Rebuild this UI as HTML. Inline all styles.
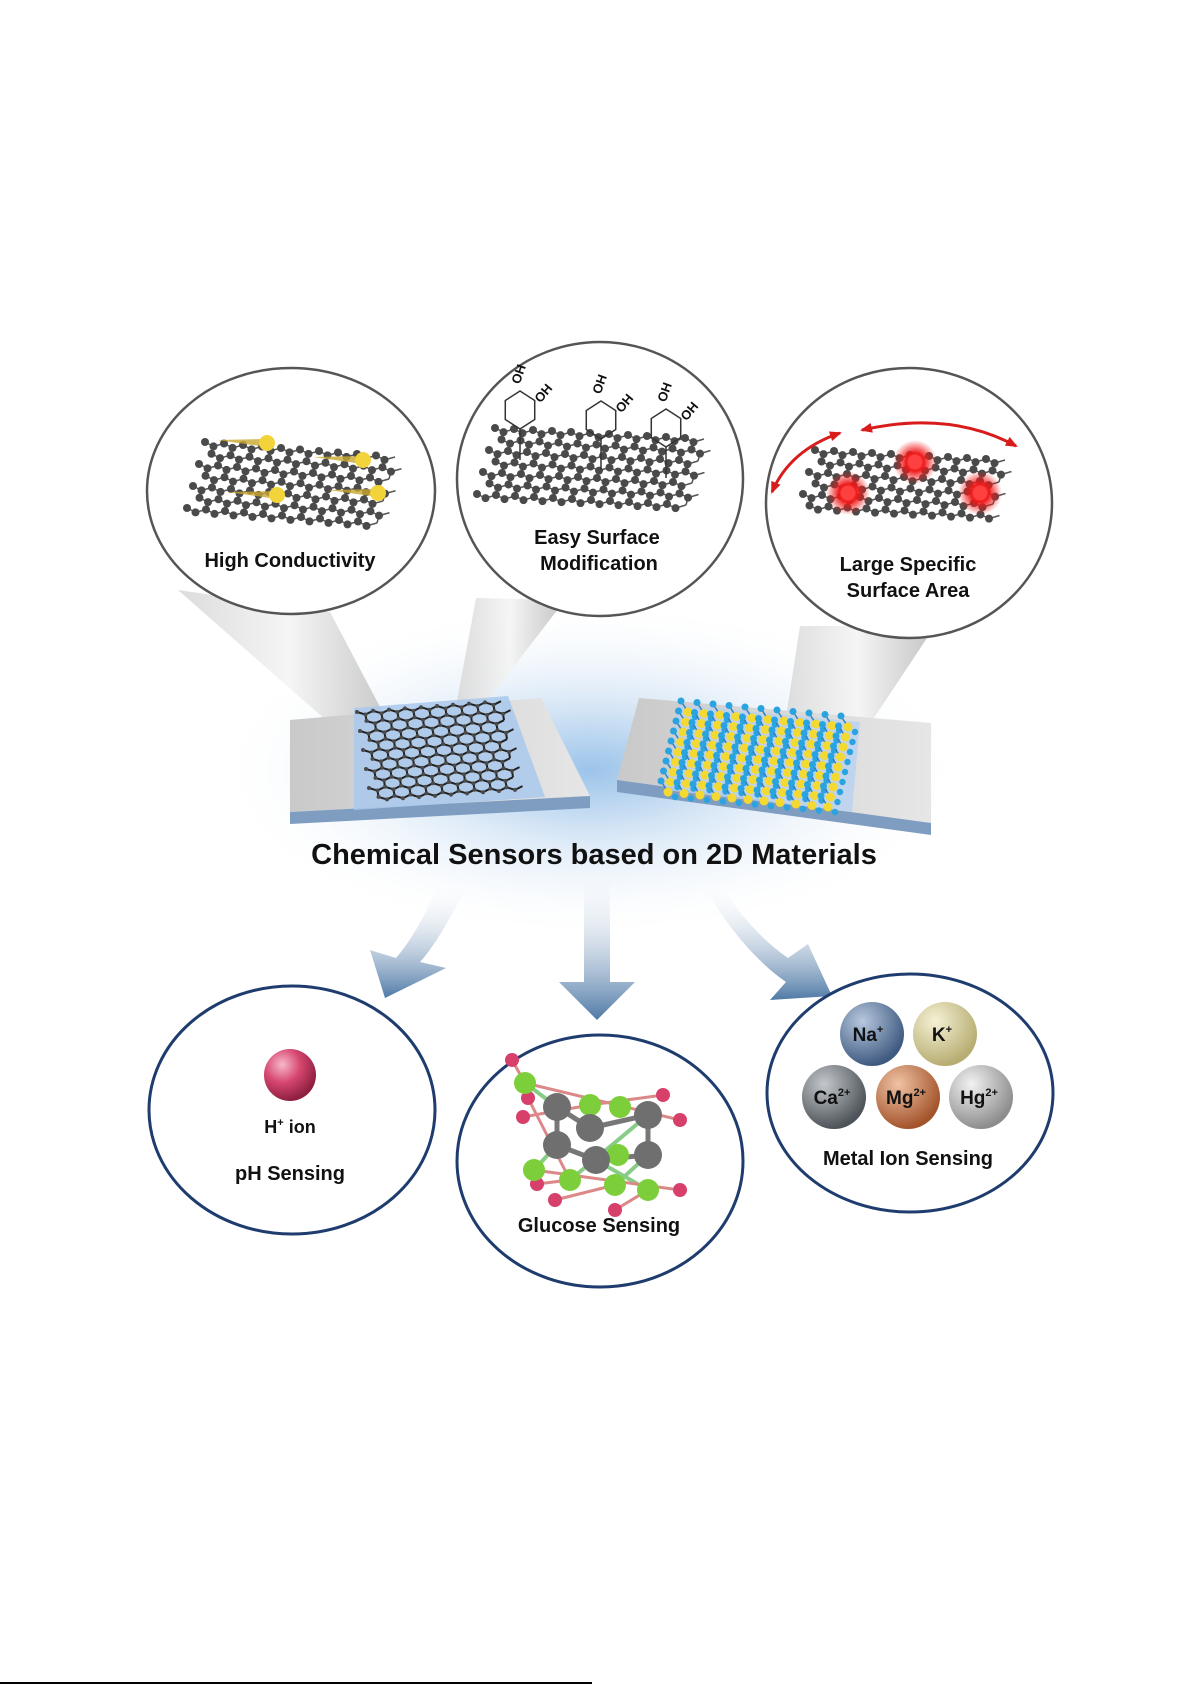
<!DOCTYPE html>
<html><head><meta charset="utf-8"><style>
html,body{margin:0;padding:0;background:#fff;}
svg{display:block;}
text{font-family:"Liberation Sans",Arial,sans-serif;font-weight:bold;fill:#111;}
</style></head><body>
<svg id="s" width="1191" height="1685" viewBox="0 0 1191 1685" xmlns="http://www.w3.org/2000/svg">
<defs>
<radialGradient id="glow" cx="0.5" cy="0.5" r="0.5">
<stop offset="0" stop-color="#9cc4ea"/><stop offset="0.35" stop-color="#d3e4f5"/><stop offset="1" stop-color="#fff" stop-opacity="0"/></radialGradient>
<linearGradient id="cone" x1="0" y1="0" x2="1" y2="0"><stop offset="0" stop-color="#d8d8d8"/><stop offset="0.5" stop-color="#f4f4f4"/><stop offset="1" stop-color="#bdbdbd"/></linearGradient>
<linearGradient id="slab" x1="0" y1="0" x2="1" y2="0"><stop offset="0" stop-color="#c9c9c9"/><stop offset="1" stop-color="#e6e6e6"/></linearGradient>
<linearGradient id="arr" x1="0" y1="0" x2="0" y2="1"><stop offset="0" stop-color="#fff" stop-opacity="0"/><stop offset="1" stop-color="#4f79a6"/></linearGradient>
<radialGradient id="gH" cx="0.35" cy="0.3" r="0.7"><stop offset="0" stop-color="#f7b8cc"/><stop offset="0.5" stop-color="#d6466f"/><stop offset="1" stop-color="#8e1f40"/></radialGradient>
<radialGradient id="gNa" cx="0.35" cy="0.3" r="0.7"><stop offset="0" stop-color="#b7c8df"/><stop offset="1" stop-color="#3f5a80"/></radialGradient>
<radialGradient id="gK" cx="0.35" cy="0.3" r="0.7"><stop offset="0" stop-color="#f5f1d5"/><stop offset="1" stop-color="#b7ad72"/></radialGradient>
<radialGradient id="gCa" cx="0.35" cy="0.3" r="0.7"><stop offset="0" stop-color="#c4c8cc"/><stop offset="1" stop-color="#4d5358"/></radialGradient>
<radialGradient id="gMg" cx="0.35" cy="0.3" r="0.7"><stop offset="0" stop-color="#f0c3a4"/><stop offset="1" stop-color="#a3542b"/></radialGradient>
<radialGradient id="gHg" cx="0.35" cy="0.3" r="0.7"><stop offset="0" stop-color="#f2f2f2"/><stop offset="1" stop-color="#8d8d8d"/></radialGradient>
<radialGradient id="star" cx="0.5" cy="0.5" r="0.5"><stop offset="0" stop-color="#ffb0b0"/><stop offset="0.4" stop-color="#f01818"/><stop offset="1" stop-color="#f01818" stop-opacity="0"/></radialGradient>
<marker id="ra" markerUnits="userSpaceOnUse" markerWidth="12" markerHeight="10" refX="10" refY="5" orient="auto-start-reverse"><path d="M0,0 L12,5 L0,10 z" fill="#d81c1c"/></marker>
</defs>
<ellipse cx="590" cy="770" rx="380" ry="170" fill="url(#glow)"/>
<!-- cones -->
<polygon points="178,590 330,612 400,745 360,750" fill="url(#cone)" opacity="0.9"/>
<polygon points="476,598 565,600 488,700 455,712" fill="url(#cone)" opacity="0.9"/>
<polygon points="800,626 935,626 856,745 780,756" fill="url(#cone)" opacity="0.9"/>
<!-- left slab -->
<polygon points="290,720 541,698 590,796 290,812" fill="url(#slab)"/>
<polygon points="290,812 590,796 590,808 290,824" fill="#7f9dc0"/>
<polygon points="354,708 508,696 545,797 354,810" fill="#a9c8ec" opacity="0.85"/>
<g id="lg"></g>
<!-- right slab -->
<polygon points="639,698 931,723 931,823 617,780" fill="url(#slab)"/>
<polygon points="617,780 931,823 931,835 617,792" fill="#7f9dc0"/>
<polygon points="680,705 860,722 852,812 665,790" fill="#b8d2f0" opacity="0.8"/>
<g id="mo"></g>
<!-- top circles -->
<ellipse cx="291" cy="491" rx="144" ry="123" fill="#fff" stroke="#555" stroke-width="2.5"/>
<ellipse cx="600" cy="479" rx="143" ry="137" fill="#fff" stroke="#555" stroke-width="2.5"/>
<ellipse cx="909" cy="503" rx="143" ry="135" fill="#fff" stroke="#555" stroke-width="2.5"/>
<g id="g1"></g><g id="g2"></g><g id="g3"></g>
<text x="290" y="567" font-size="20" text-anchor="middle">High Conductivity</text>
<text x="597" y="544" font-size="20" text-anchor="middle">Easy Surface</text>
<text x="599" y="570" font-size="20" text-anchor="middle">Modification</text>
<text x="908" y="571" font-size="20" text-anchor="middle">Large Specific</text>
<text x="908" y="597" font-size="20" text-anchor="middle">Surface Area</text>
<!-- red stars and arrows -->
<circle cx="848" cy="493" r="22" fill="url(#star)"/><circle cx="848" cy="493" r="7" fill="#ff4040"/>
<circle cx="915" cy="462" r="22" fill="url(#star)"/><circle cx="915" cy="462" r="7" fill="#ff4040"/>
<circle cx="980" cy="493" r="22" fill="url(#star)"/><circle cx="980" cy="493" r="7" fill="#ff4040"/>
<path d="M772,492 Q790,450 840,433" stroke="#d81c1c" stroke-width="3" fill="none" marker-end="url(#ra)" marker-start="url(#ra)"/>
<path d="M862,430 Q950,410 1016,446" stroke="#d81c1c" stroke-width="3" fill="none" marker-end="url(#ra)" marker-start="url(#ra)"/>
<!-- title -->
<text x="594" y="864" font-size="29" text-anchor="middle" fill="#000">Chemical Sensors based on 2D Materials</text>
<!-- arrows -->
<path d="M470,880 Q440,940 420,962 L446,968 L385,998 L370,950 L396,958 Q420,930 440,880 Z" fill="url(#arr)"/>
<polygon points="584,866 610,866 610,982 635,982 597,1020 559,982 584,982" fill="url(#arr)"/>
<path d="M718,880 Q748,930 788,958 L808,944 L832,996 L770,1000 L786,982 Q740,950 700,880 Z" fill="url(#arr)"/>
<!-- bottom circles -->
<ellipse cx="292" cy="1110" rx="143" ry="124" fill="#fff" stroke="#1f3c6e" stroke-width="3"/>
<ellipse cx="600" cy="1161" rx="143" ry="126" fill="#fff" stroke="#1f3c6e" stroke-width="3"/>
<ellipse cx="910" cy="1093" rx="143" ry="119" fill="#fff" stroke="#1f3c6e" stroke-width="3"/>
<circle cx="290" cy="1075" r="26" fill="url(#gH)"/>
<text x="290" y="1133" font-size="18" text-anchor="middle">H<tspan font-size="11" dy="-7">+</tspan><tspan dy="7"> ion</tspan></text>
<text x="290" y="1180" font-size="20" text-anchor="middle">pH Sensing</text>
<g id="glu"></g>
<text x="599" y="1232" font-size="20" text-anchor="middle">Glucose Sensing</text>
<circle cx="872" cy="1034" r="32" fill="url(#gNa)"/>
<circle cx="945" cy="1034" r="32" fill="url(#gK)"/>
<circle cx="834" cy="1097" r="32" fill="url(#gCa)"/>
<circle cx="908" cy="1097" r="32" fill="url(#gMg)"/>
<circle cx="981" cy="1097" r="32" fill="url(#gHg)"/>
<text x="868" y="1041" font-size="19" text-anchor="middle">Na<tspan font-size="11" dy="-8">+</tspan></text>
<text x="942" y="1041" font-size="19" text-anchor="middle">K<tspan font-size="11" dy="-8">+</tspan></text>
<text x="832" y="1104" font-size="19" text-anchor="middle">Ca<tspan font-size="11" dy="-8">2+</tspan></text>
<text x="906" y="1104" font-size="19" text-anchor="middle">Mg<tspan font-size="11" dy="-8">2+</tspan></text>
<text x="979" y="1104" font-size="19" text-anchor="middle">Hg<tspan font-size="11" dy="-8">2+</tspan></text>
<text x="908" y="1165" font-size="20" text-anchor="middle">Metal Ion Sensing</text>
<line x1="0" y1="1683" x2="592" y2="1683" stroke="#000" stroke-width="2"/>
</svg>
<script>
var NS="http://www.w3.org/2000/svg";
function el(p,t,a){var e=document.createElementNS(NS,t);for(var k in a)e.setAttribute(k,a[k]);p.appendChild(e);return e;}
function sheet(id,ox,oy,ux,uy,vx,vy,nu,nv,col,r,lw){
 var g=document.getElementById(id);var pts=[];
 for(var i=0;i<nu;i++)for(var j=0;j<nv;j++){
  var a=i+(j%2)*0.5;
  var x=ox+a*ux+j*vx, y=oy+a*uy+j*vy;
  var x2=x+0.5*ux+0.33*vx, y2=y+0.5*uy+0.33*vy;
  var x3=x+ux, y3=y+uy;
  el(g,"line",{x1:x,y1:y,x2:x2,y2:y2,stroke:col,"stroke-width":lw});
  el(g,"line",{x1:x2,y1:y2,x2:x3,y2:y3,stroke:col,"stroke-width":lw});
  if(j<nv-1)el(g,"line",{x1:x2,y1:y2,x2:x2+0.67*vx,y2:y2+0.67*vy,stroke:col,"stroke-width":lw});
  pts.push([x,y],[x2,y2]);
 }
 if(r>0)pts.forEach(function(p){el(g,"circle",{cx:p[0],cy:p[1],r:r,fill:"#4a4a4a"});});
}
sheet("lg",357,712,16,-1.2,1.5,9.5,9,10,"#222",2,2);
sheet("g1",205,442,19,1.5,-3,11,10,7,"#555",4,1.5);
sheet("g2",495,428,19,1,-3,11,11,7,"#555",4,1.5);
sheet("g3",815,450,19,1,-3,11,10,6,"#555",4,1.5);
[[267,443],[363,460],[277,495],[378,493]].forEach(function(p){var g=document.getElementById("g1");
 el(g,"polygon",{points:(p[0]-50)+","+(p[1]-3)+" "+p[0]+","+(p[1]-4)+" "+p[0]+","+(p[1]+4),fill:"#c9a830",opacity:0.8});
 el(g,"circle",{cx:p[0],cy:p[1],r:8,fill:"#f2d33a"});});
[[520,410],[601,420],[666,428]].forEach(function(p){var g=document.getElementById("g2");var s="";
 for(var k=0;k<6;k++){var an=Math.PI/3*k+Math.PI/6;s+=(p[0]+17*Math.cos(an))+","+(p[1]+19*Math.sin(an))+" ";}
 el(g,"polygon",{points:s,fill:"none",stroke:"#333","stroke-width":1.5});
 el(g,"line",{x1:p[0],y1:p[1]+19,x2:p[0],y2:p[1]+50,stroke:"#333","stroke-width":1.5});
 var t=el(g,"text",{x:p[0]-6,y:p[1]-27,"font-size":13,"font-weight":"normal",transform:"rotate(-70 "+(p[0]-2)+" "+(p[1]-30)+")"});t.textContent="OH";
 var t2=el(g,"text",{x:p[0]+16,y:p[1]-10,"font-size":13,"font-weight":"normal",transform:"rotate(-50 "+(p[0]+22)+" "+(p[1]-13)+")"});t2.textContent="OH";});
(function(){var g=document.getElementById("mo");
 for(var i=0;i<11;i++)for(var j=0;j<9;j++){var x=688+i*16+j*-2.5,y=712+j*10+i*1.5;
  el(g,"line",{x1:x,y1:y,x2:x-7,y2:y-11,stroke:"#3a7fb8","stroke-width":1.5});
  el(g,"circle",{cx:x-7,cy:y-11,r:3.5,fill:"#2aa4e0"});
  el(g,"circle",{cx:x+7,cy:y+5,r:3.2,fill:"#2aa4e0"});
  el(g,"circle",{cx:x,cy:y,r:4.5,fill:"#f3d930"});}})();
(function(){var g=document.getElementById("glu");
 var C=[[557,1107],[590,1128],[648,1115],[648,1155],[596,1160],[557,1145]];
 var O=[[620,1107],[618,1155]];
 var G=[[525,1083],[590,1105],[570,1180],[615,1185],[648,1190],[534,1170]];
 var R=[[512,1060],[523,1117],[537,1184],[555,1200],[615,1210],[680,1190],[680,1120],[663,1095],[528,1098]];
 C.forEach(function(c,i){var n=C[(i+1)%6];el(g,"line",{x1:c[0],y1:c[1],x2:n[0],y2:n[1],stroke:"#777","stroke-width":5});});
 G.forEach(function(p,i){el(g,"line",{x1:p[0],y1:p[1],x2:C[i][0],y2:C[i][1],stroke:"#8c8","stroke-width":4});});
 R.forEach(function(p,i){var q=G[i%6];el(g,"line",{x1:p[0],y1:p[1],x2:q[0],y2:q[1],stroke:"#d88","stroke-width":3});});
 R.forEach(function(p){el(g,"circle",{cx:p[0],cy:p[1],r:7,fill:"#d6406a"});});
 G.forEach(function(p){el(g,"circle",{cx:p[0],cy:p[1],r:11,fill:"#7ccf3a"});});
 O.forEach(function(p){el(g,"circle",{cx:p[0],cy:p[1],r:11,fill:"#7ccf3a"});});
 C.forEach(function(p){el(g,"circle",{cx:p[0],cy:p[1],r:14,fill:"#6f6f6f"});});})();
</script>
</body></html>
